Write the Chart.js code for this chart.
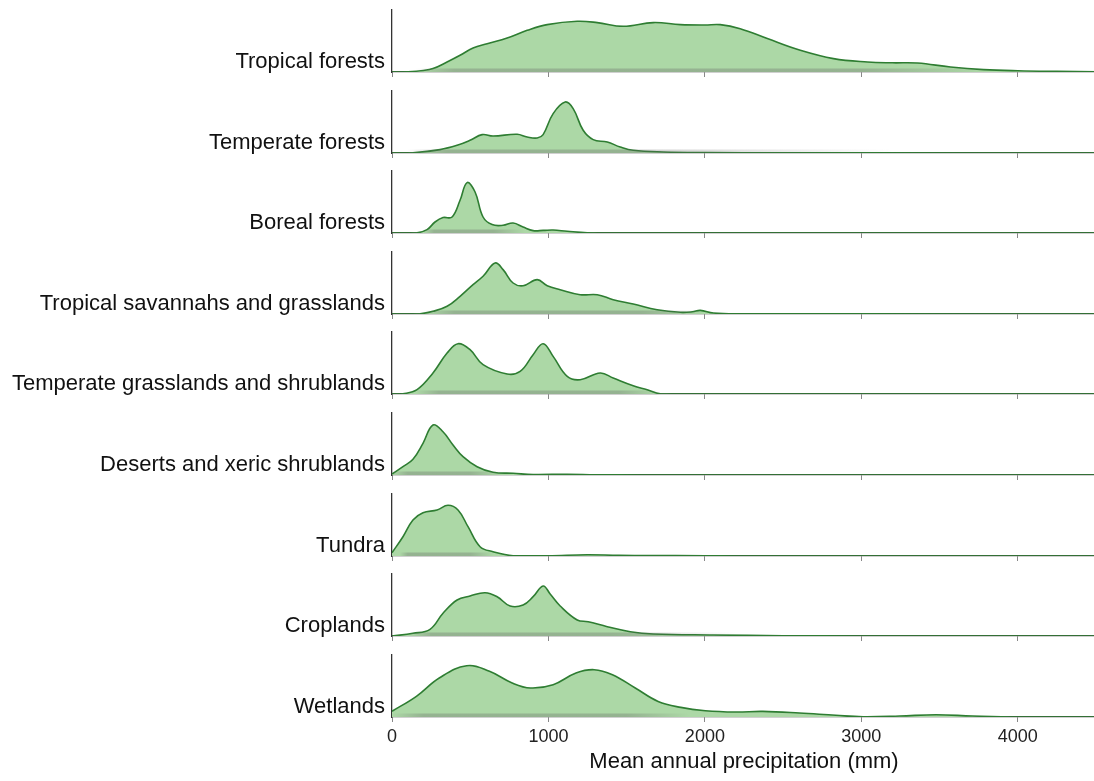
<!DOCTYPE html>
<html>
<head>
<meta charset="utf-8">
<title>Mean annual precipitation by biome</title>
<script src="https://cdn.jsdelivr.net/npm/chart.js@4.4.1/dist/chart.umd.min.js"></script>
<style>
  html, body { margin: 0; padding: 0; background: #fff; overflow: hidden; }
  #wrap { position: relative; width: 1094px; height: 781px; overflow: hidden; }
  .panel { position: absolute; left: 0; width: 1096px; }
  .label {
    position: absolute; right: 709px; white-space: nowrap;
    font: 22px "Liberation Sans", Arial, sans-serif; line-height: 22px; color: #111;
  }
</style>
</head>
<body>
<div id="wrap"></div>
<script>
// --- Data (x: mean annual precipitation in mm, y: relative density) ---
const biomes = [
  'Tropical forests', 'Temperate forests', 'Boreal forests',
  'Tropical savannahs and grasslands', 'Temperate grasslands and shrublands',
  'Deserts and xeric shrublands', 'Tundra', 'Croplands', 'Wetlands'
];
const xTicks = [0, 1000, 2000, 3000, 4000];
const xMax = 4500;

const tropicalForests = [[0,0],[100,0.3],[200,1.5],[262,3.4],[352,10],[435,16.7],[518,24],[608,28.3],[736,34],[864,41.7],[992,47.4],[1184,50.7],[1312,49.4],[1478,45.7],[1670,49.4],[1843,47.4],[2000,47],[2098,47.4],[2226,43.3],[2399,33.4],[2610,21.7],[2822,13.4],[3039,10],[3200,9.2],[3359,9],[3570,5],[3781,2.4],[4000,1.2],[4250,0.6],[4500,0.3]];
const temperateForests = [[0,0],[134,0.3],[307,3.4],[416,7.7],[499,12.7],[576,18.4],[646,17],[800,18.7],[864,16],[928,15],[966,18.4],[1030,39.4],[1107,51],[1158,44.4],[1222,22.7],[1286,13.4],[1376,11],[1459,6],[1542,2.7],[1734,1],[2000,0.4],[2500,0.2],[3000,0.1],[4500,0]];
const borealForests = [[0,0],[160,0.3],[224,3.4],[275,11],[326,15.4],[384,16],[435,32.7],[480,50.4],[531,41],[582,16],[640,8.4],[710,7.7],[774,10],[838,6],[902,2.4],[966,2.6],[1030,3],[1120,1.7],[1248,0.3],[1500,0],[4500,0]];
const tropicalSavannahs = [[0,0],[179,0.3],[262,2.7],[352,7.7],[435,17.7],[518,29.4],[582,37.7],[659,51],[710,44.4],[774,31],[838,28.3],[928,34.4],[992,28.3],[1075,24.3],[1203,19.3],[1312,19.3],[1414,14.3],[1542,10],[1695,4.3],[1843,1.7],[1920,2.2],[1971,3.6],[2054,1],[2226,0.2],[3000,0.1],[4500,0]];
const temperateGrasslands = [[0,0],[70,0.3],[160,4.3],[262,21],[352,41],[422,50.3],[499,44.3],[582,29.3],[736,20],[819,22.6],[902,39.3],[966,50.3],[1030,37.6],[1120,17.6],[1203,14.3],[1331,21],[1414,16],[1542,8.3],[1631,4.3],[1715,0.3],[2000,0],[4500,0]];
const deserts = [[0,1],[70,8.3],[134,15.7],[198,31.7],[262,50],[326,43.3],[390,30],[454,18.3],[544,8.3],[646,2.7],[774,1.7],[902,0.5],[1120,0.8],[1300,0.3],[1600,0],[4500,0]];
const tundra = [[0,3.3],[70,19.3],[134,36],[198,43.3],[288,46],[358,50.7],[422,46],[486,29.3],[563,9.3],[646,4.3],[774,0.3],[1000,0.2],[1248,1.3],[1450,0.6],[1631,0.5],[2000,0.2],[2200,0],[4500,0]];
const croplands = [[0,0],[134,2.7],[243,6.7],[326,22.7],[416,36],[499,40],[595,43.3],[672,39.3],[755,30],[838,31],[902,39.3],[966,50],[1011,42],[1075,30],[1184,16],[1254,14.3],[1376,9.3],[1523,4.3],[1670,2],[2054,1],[2500,0.3],[3000,0],[4500,0]];
const wetlands = [[0,5.7],[156,20.7],[302,39],[477,51.3],[623,45.7],[768,34],[885,29],[1030,32.3],[1176,44],[1292,47.3],[1409,42.3],[1555,29],[1701,15.6],[1846,9.6],[2003,6.3],[2195,5],[2370,5.6],[2604,4],[2837,1.7],[3011,0.3],[3245,1],[3478,2.3],[3711,1],[4002,0],[4500,0]];

const densities = [tropicalForests, temperateForests, borealForests, tropicalSavannahs,
  temperateGrasslands, deserts, tundra, croplands, wetlands];

// rug extent per biome: [fade in, dense from, dense to, fade out] (mm)
const rugRanges = [
  [150, 400, 3000, 3800], [100, 350, 1450, 3200], [200, 270, 650, 850],
  [200, 400, 1600, 2000], [150, 300, 1450, 1700], [0, 100, 500, 700],
  [50, 100, 500, 650], [100, 250, 1400, 2200], [0, 200, 1500, 1900]
];

// --- Layout ---
const PANEL_H = 62, PAD_TOP = 4, FIRST_BASE = 72, STEP = 80.6, LEFT = 392;
const yMax = 62, rugH = 3.5;
const lineColor = '#2e7d32', fillColor = '#acd8a6';

Chart.defaults.font.family = '"Liberation Sans", Arial, sans-serif';
const wrap = document.getElementById('wrap');

function rugFill(range) {
  return (ctx) => {
    const chart = ctx.chart;
    if (!chart.chartArea) return 'rgba(0,0,0,0)';
    const xs = chart.scales.x;
    const p = range.map(v => xs.getPixelForValue(v));
    const g = chart.ctx.createLinearGradient(p[0], 0, p[3], 0);
    const span = (p[3] - p[0]) || 1;
    g.addColorStop(0, 'rgba(100,100,100,0)');
    g.addColorStop((p[1] - p[0]) / span, 'rgba(100,100,100,0.32)');
    g.addColorStop((p[2] - p[0]) / span, 'rgba(100,100,100,0.32)');
    g.addColorStop(1, 'rgba(100,100,100,0)');
    return g;
  };
}

biomes.forEach((name, i) => {
  const last = i === biomes.length - 1;
  const base = Math.round(FIRST_BASE + i * STEP);
  const bottom = last ? 781 - base : 8;
  const h = PANEL_H + PAD_TOP + bottom;

  const div = document.createElement('div');
  div.className = 'panel';
  div.style.top = (base - PANEL_H - PAD_TOP) + 'px';
  div.style.height = h + 'px';
  const canvas = document.createElement('canvas');
  canvas.width = 1096;
  canvas.height = h;
  div.appendChild(canvas);
  wrap.appendChild(div);

  const label = document.createElement('div');
  label.className = 'label';
  label.textContent = name;
  label.style.top = (base - 22) + 'px';
  wrap.appendChild(label);

  const r = rugRanges[i];
  new Chart(canvas, {
    type: 'line',
    data: {
      datasets: [
        {
          data: densities[i],
          borderColor: lineColor,
          borderWidth: 1.6,
          backgroundColor: fillColor,
          fill: 'origin',
          tension: 0.4,
          pointRadius: 0,
          order: 1
        },
        {
          data: [[r[0], rugH], [r[3], rugH]],
          borderWidth: 0,
          borderColor: 'rgba(0,0,0,0)',
          backgroundColor: rugFill(r),
          fill: 'origin',
          pointRadius: 0,
          order: 0
        }
      ]
    },
    options: {
      responsive: false,
      animation: false,
      layout: { padding: { top: PAD_TOP, left: 0, right: 0, bottom: 0 } },
      plugins: { legend: { display: false }, tooltip: { enabled: false } },
      scales: {
        x: {
          type: 'linear',
          min: 0,
          max: xMax,
          afterBuildTicks: ax => { ax.ticks = xTicks.map(v => ({ value: v })); },
          afterFit: ax => { ax.height = bottom; },
          grid: { display: true, drawOnChartArea: false, drawTicks: true, tickLength: 5, color: '#888' },
          border: { display: true, color: '#444', width: 1.3 },
          ticks: {
            display: last, font: { size: 18 }, color: '#222', padding: 4,
            maxRotation: 0, autoSkip: false, callback: v => String(v)
          },
          title: {
            display: last,
            text: 'Mean annual precipitation (mm)',
            font: { size: 22 },
            color: '#111',
            padding: { top: 2, bottom: 6 }
          }
        },
        y: {
          type: 'linear',
          min: 0,
          max: yMax,
          afterFit: ax => { ax.width = LEFT; },
          ticks: { display: false },
          grid: { display: false },
          border: { display: true, color: '#333', width: 1.3 }
        }
      }
    }
  });
});
</script>
</body>
</html>
